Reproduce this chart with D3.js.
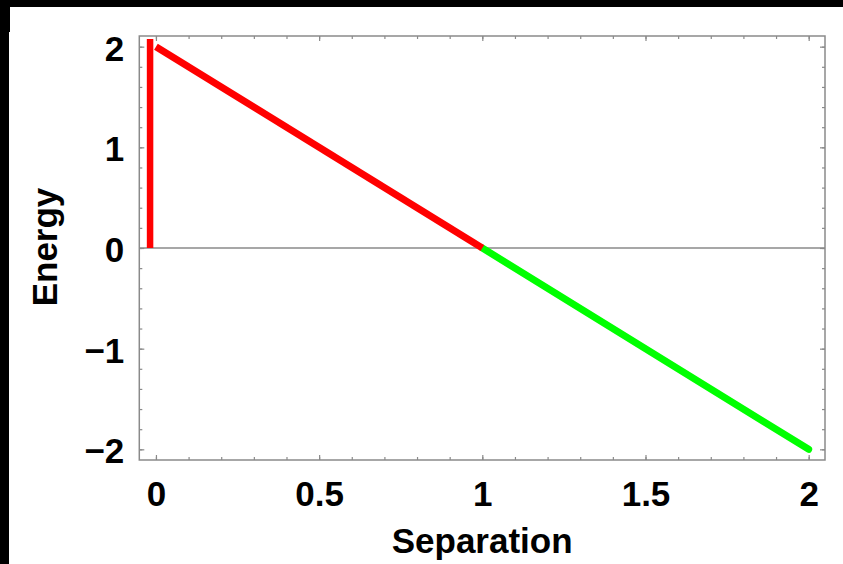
<!DOCTYPE html>
<html>
<head>
<meta charset="utf-8">
<script src="https://cdn.jsdelivr.net/npm/d3@7"></script>
<style>
  body { margin: 0; background: #000; }
  svg { display: block; }
</style>
</head>
<body>
<div id="chart"></div>
<script>
// data
var xMajor = [0, 0.5, 1, 1.5, 2];
var xMinor = d3.range(0, 21).map(function(i) { return i / 10; });
var yMajor = [-2, -1, 0, 1, 2];
var yMinor = d3.range(-10, 11).map(function(i) { return i / 5; });

// hard wall at small negative separation
var wallSep = [-0.018, -0.018];
var wallEnergy = [0, 2.075];
// red part of the potential
var redSep = [0, 1];
var redEnergy = [2, 0];
// green part
var greenSep = [1, 2];
var greenEnergy = [0, -2];

var W = 843, H = 564;
var pLeft = 139.3, pRight = 825, pTop = 36, pBottom = 460;
var font = "'Liberation Sans', Arial, Helvetica, sans-serif";
var gray = "#8a8a8a";

var svg = d3.select("#chart").append("svg")
    .attr("width", W)
    .attr("height", H);

// white page, black border on top/left like the reference
svg.append("rect").attr("x", 9).attr("y", 7).attr("width", W - 9).attr("height", H - 7).attr("fill", "#fff");
svg.append("rect").attr("x", 9).attr("y", 7).attr("width", 1).attr("height", 25).attr("fill", "#000");

var x = d3.scaleLinear().domain([-0.051, 2.05]).range([pLeft, pRight]);
var y = d3.scaleLinear().domain([-2.106, 2.106]).range([pBottom, pTop]);

function fmt(d) {
  var s = String(d);
  return d < 0 ? "\u2212" + s.slice(1) : s;
}

function styleAxis(g) {
  g.select(".domain").remove();
  g.selectAll("line").attr("stroke", gray).attr("stroke-width", 1.2);
  g.attr("font-family", font).attr("font-size", 35).attr("font-weight", "bold");
  g.selectAll("text").attr("fill", "#000");
}

// minor ticks on all four sides
svg.append("g").attr("transform", "translate(0," + pBottom + ")")
    .call(d3.axisBottom(x).tickValues(xMinor).tickSizeInner(-3).tickSizeOuter(0).tickFormat(""))
    .call(styleAxis);
svg.append("g").attr("transform", "translate(0," + pTop + ")")
    .call(d3.axisTop(x).tickValues(xMinor).tickSizeInner(-3).tickSizeOuter(0).tickFormat(""))
    .call(styleAxis);
svg.append("g").attr("transform", "translate(" + pLeft + ",0)")
    .call(d3.axisLeft(y).tickValues(yMinor).tickSizeInner(-3).tickSizeOuter(0).tickFormat(""))
    .call(styleAxis);
svg.append("g").attr("transform", "translate(" + pRight + ",0)")
    .call(d3.axisRight(y).tickValues(yMinor).tickSizeInner(-3).tickSizeOuter(0).tickFormat(""))
    .call(styleAxis);

// major ticks + labels
svg.append("g").attr("transform", "translate(0," + pBottom + ")")
    .call(d3.axisBottom(x).tickValues(xMajor).tickSizeInner(-5).tickSizeOuter(0).tickPadding(21).tickFormat(fmt))
    .call(styleAxis);
svg.append("g").attr("transform", "translate(0," + pTop + ")")
    .call(d3.axisTop(x).tickValues(xMajor).tickSizeInner(-5).tickSizeOuter(0).tickFormat(""))
    .call(styleAxis);
svg.append("g").attr("transform", "translate(" + pLeft + ",0)")
    .call(d3.axisLeft(y).tickValues(yMajor).tickSizeInner(-5).tickSizeOuter(0).tickPadding(15).tickFormat(fmt))
    .call(styleAxis)
    .selectAll("text").attr("dy", "0.39em");
svg.append("g").attr("transform", "translate(" + pRight + ",0)")
    .call(d3.axisRight(y).tickValues(yMajor).tickSizeInner(-5).tickSizeOuter(0).tickFormat(""))
    .call(styleAxis);

// frame
svg.append("rect")
    .attr("x", pLeft).attr("y", pTop)
    .attr("width", pRight - pLeft).attr("height", pBottom - pTop)
    .attr("fill", "none").attr("stroke", gray).attr("stroke-width", 1.5);

// zero line
svg.append("line")
    .attr("x1", pLeft).attr("x2", pRight)
    .attr("y1", y(0)).attr("y2", y(0))
    .attr("stroke", gray).attr("stroke-width", 1.5);

function pts(xs, ys) { return xs.map(function(v, i) { return [v, ys[i]]; }); }
var line = d3.line().x(function(d) { return x(d[0]); }).y(function(d) { return y(d[1]); });

svg.append("path")
    .attr("d", line(pts(greenSep, greenEnergy)))
    .attr("fill", "none").attr("stroke", "#00ff00")
    .attr("stroke-width", 7).attr("stroke-linecap", "round");
svg.append("path")
    .attr("d", line(pts(redSep, redEnergy)))
    .attr("fill", "none").attr("stroke", "#ff0000")
    .attr("stroke-width", 7).attr("stroke-linecap", "butt");
svg.append("path")
    .attr("d", line(pts(wallSep, wallEnergy)))
    .attr("fill", "none").attr("stroke", "#ff0000")
    .attr("stroke-width", 6.5).attr("stroke-linecap", "butt");

// axis titles
svg.append("text")
    .attr("x", (pLeft + pRight) / 2).attr("y", 553)
    .attr("text-anchor", "middle")
    .attr("font-family", font).attr("font-size", 35).attr("font-weight", "bold")
    .text("Separation");
svg.append("text")
    .attr("transform", "translate(57," + ((pTop + pBottom) / 2 - 1) + ") rotate(-90)")
    .attr("text-anchor", "middle")
    .attr("font-family", font).attr("font-size", 35).attr("font-weight", "bold")
    .text("Energy");
</script>
</body>
</html>
